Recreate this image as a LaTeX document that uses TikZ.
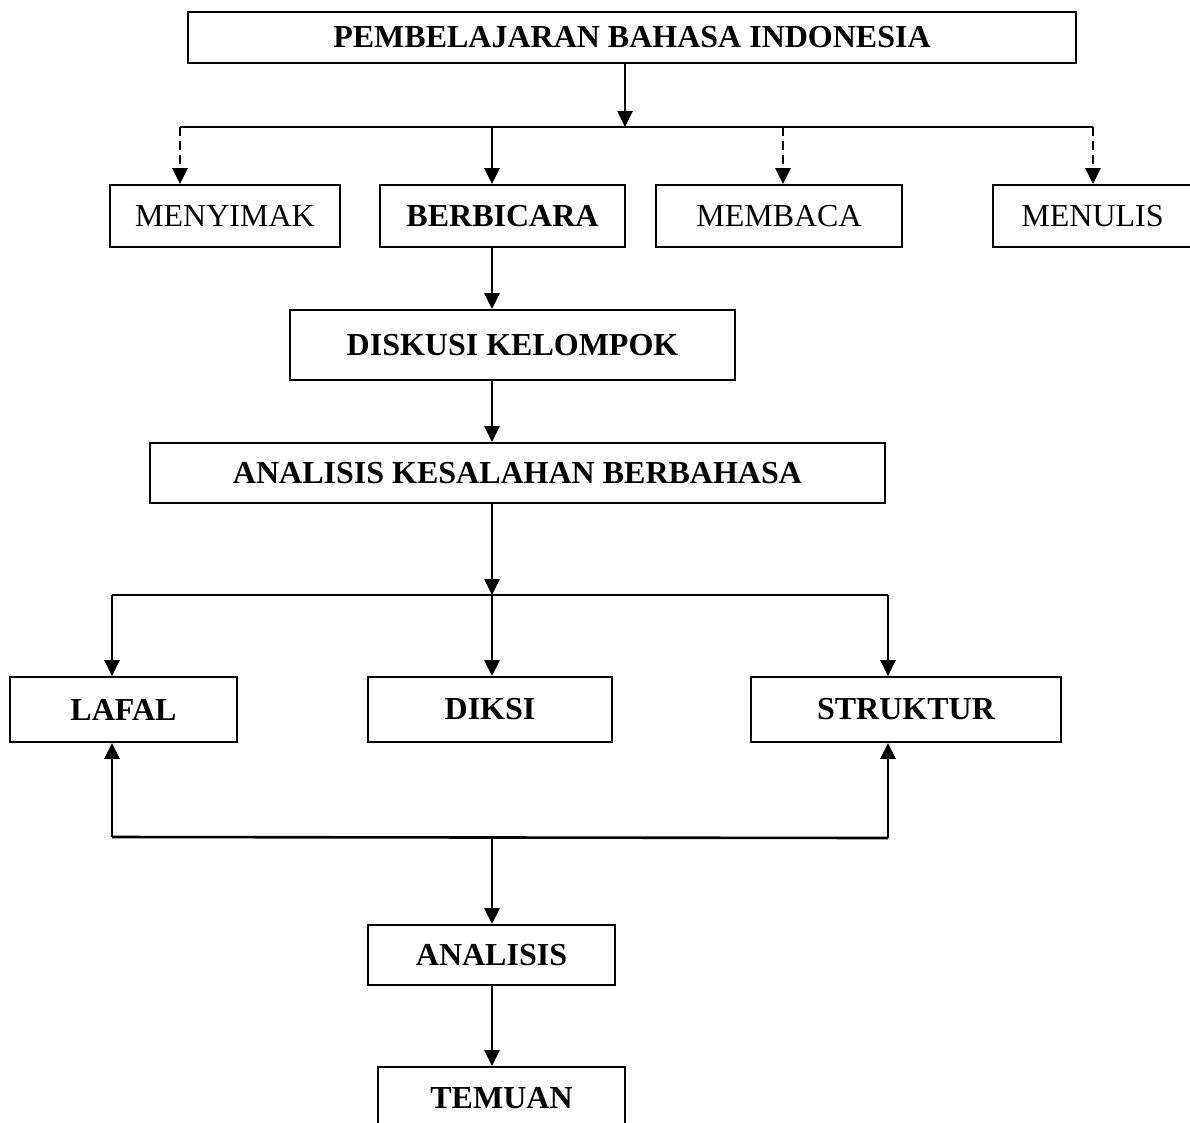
\documentclass[tikz,border=0pt]{standalone}
\usepackage{fontspec}
\setmainfont{Liberation Serif}
\usetikzlibrary{arrows.meta}
\begin{document}
\begin{tikzpicture}[x=1pt,y=-1pt,
  box/.style={draw, line width=1.8pt, inner sep=0pt, font=\fontsize{32}{38}\selectfont},
  bbox/.style={box, font=\fontsize{32}{38}\selectfont\bfseries},
  ln/.style={line width=2.6pt},
  arr/.style={ln, -{Triangle[length=16pt,width=15pt]}},
  darr/.style={arr, dash pattern=on 9pt off 5pt}]
\useasboundingbox (0,0) rectangle (1190,1122);
\clip (0,0) rectangle (1190,1122);
% nodes
\node[bbox, minimum width=888pt, minimum height=51pt] (top) at (632,37.5) {PEMBELAJARAN BAHASA INDONESIA};
\node[box, minimum width=230pt, minimum height=62pt] (menyimak) at (225,216) {MENYIMAK};
\node[bbox, minimum width=245pt, minimum height=62pt] (berbicara) at (502.5,216) {BERBICARA};
\node[box, minimum width=246pt, minimum height=62pt] (membaca) at (779,216) {MEMBACA};
\node[box, minimum width=203pt, minimum height=62pt] (menulis) at (1094.5,216) {\hspace*{-4pt}MENULIS};
\node[bbox, minimum width=445pt, minimum height=70pt] (diskusi) at (512.5,345) {DISKUSI KELOMPOK};
\node[bbox, minimum width=735pt, minimum height=60pt] (aksb) at (517.5,473) {ANALISIS KESALAHAN BERBAHASA};
\node[bbox, minimum width=227pt, minimum height=65pt] (lafal) at (123.5,709.5) {LAFAL};
\node[bbox, minimum width=244pt, minimum height=65pt] (diksi) at (490,709.5) {DIKSI};
\node[bbox, minimum width=310pt, minimum height=65pt] (struktur) at (906,709.5) {STRUKTUR};
\node[bbox, minimum width=247pt, minimum height=60pt] (analisis) at (491.5,955) {ANALISIS};
\node[bbox, minimum width=247pt, minimum height=62pt] (temuan) at (501.5,1098) {TEMUAN};
% coordinates
\coordinate (j1) at (625,127);
\coordinate (h1l) at (180,127);
\coordinate (h1b) at (492,127);
\coordinate (h1c) at (783,127);
\coordinate (h1r) at (1093,127);
\coordinate (j2) at (492,595);
\coordinate (h2l) at (112,595);
\coordinate (h2r) at (888,595);
\coordinate (h3l) at (112,837);
\coordinate (j3) at (492,838);
\coordinate (h3r) at (888,838);
% connectors
\draw[arr] (top.south -| j1) -- (j1);
\draw[ln] (h1l) -- (h1r);
\draw[darr] (h1l) -- (menyimak.north -| h1l);
\draw[arr] (h1b) -- (berbicara.north -| h1b);
\draw[darr] (h1c) -- (membaca.north -| h1c);
\draw[darr] (h1r) -- (menulis.north -| h1r);
\draw[arr] (berbicara.south -| h1b) -- (diskusi.north -| h1b);
\draw[arr] (diskusi.south -| h1b) -- (aksb.north -| h1b);
\draw[arr] (aksb.south -| j2) -- (j2);
\draw[ln] (h2l) -- (h2r);
\draw[arr] (h2l) -- (lafal.north -| h2l);
\draw[arr] (j2) -- (diksi.north -| j2);
\draw[arr] (h2r) -- (struktur.north -| h2r);
\draw[ln] (h3l) -- (h3r);
\draw[arr] (h3l) -- (lafal.south -| h3l);
\draw[arr] (h3r) -- (struktur.south -| h3r);
\draw[arr] (j3) -- (analisis.north -| j3);
\draw[arr] (analisis.south -| j3) -- (temuan.north -| j3);
\end{tikzpicture}
\end{document}
